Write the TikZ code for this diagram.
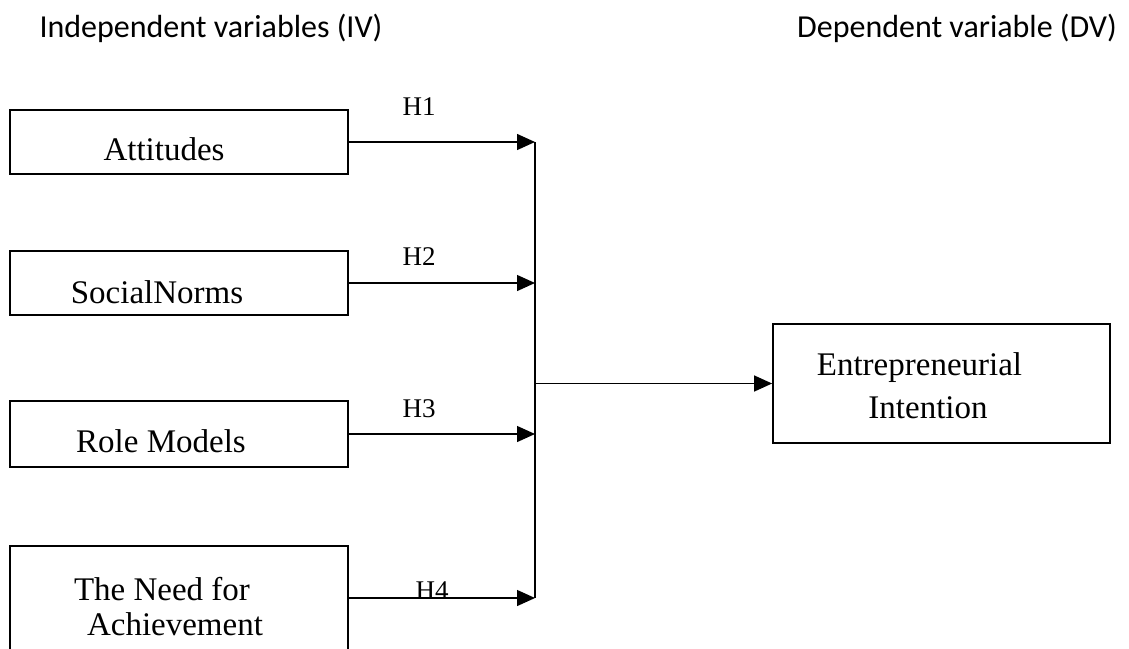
\documentclass[tikz,border=0pt]{standalone}
\usepackage{fontspec}
\setmainfont{Liberation Serif}
\newfontfamily\headfont{Carlito}
\usetikzlibrary{arrows.meta,positioning}

\begin{document}
\begin{tikzpicture}[->,x=1pt,y=-1pt,line width=1.4pt,
      >={Triangle[length=18pt,width=16pt]},
      ivbox/.style={draw,-,line width=1.8pt,minimum width=338pt,inner sep=0pt},
      boxtext/.style={anchor=base,font=\fontsize{33}{40}\selectfont},
      hyp/.style={anchor=base,font=\fontsize{27}{32}\selectfont},
      head/.style={anchor=base,font=\headfont\fontsize{32}{38}\selectfont}]
      \useasboundingbox (0,0) rectangle (1129,648);

      % headings
      \node[head] (iv) at (211,37) {Independent variables (IV)};
      \node[head] (dv) at (957,37) {Dependent variable (DV)};

      % independent variables
      \node[ivbox,minimum height=64pt] (att) at (179,142) {};
      \node[boxtext] (atttxt) at (164,160) {Attitudes};
      \node[ivbox,minimum height=64pt] (sn) at (179,283) {};
      \node[boxtext] (sntxt) at (157,303) {SocialNorms};
      \node[ivbox,minimum height=66pt] (rm) at (179,434) {};
      \node[boxtext] (rmtxt) at (161,452) {Role Models};
      \node[ivbox,minimum height=120pt] (na) at (179,606) {};
      \node[boxtext] (natxt1) at (162,600) {The Need for};
      \node[boxtext] (natxt2) at (175,635) {Achievement};

      % dependent variable
      \node[ivbox,minimum width=337pt,minimum height=119pt] (ei) at (941.5,383.5) {};
      \node[boxtext] (eitxt1) at (919.5,375) {Entrepreneurial};
      \node[boxtext] (eitxt2) at (928,418) {Intention};

      % joining line
      \coordinate (bus) at (535,142);
      \coordinate (busend) at (535,598);
      \draw[-] (bus) -- (busend);

      \path
        (att.east) edge (att.east -| bus)
        (sn.east) edge (sn.east -| bus)
        (rm.east) edge (rm.east -| bus)
        (na.east |- busend) edge (busend)
        (ei.west -| bus) edge (ei.west);

      % hypotheses
      \node[hyp] (h1) at (419,115) {H1};
      \node[hyp] (h2) at (419,265) {H2};
      \node[hyp] (h3) at (419,417) {H3};
      \node[hyp] (h4) at (432,599) {H4};
\end{tikzpicture}
\end{document}
